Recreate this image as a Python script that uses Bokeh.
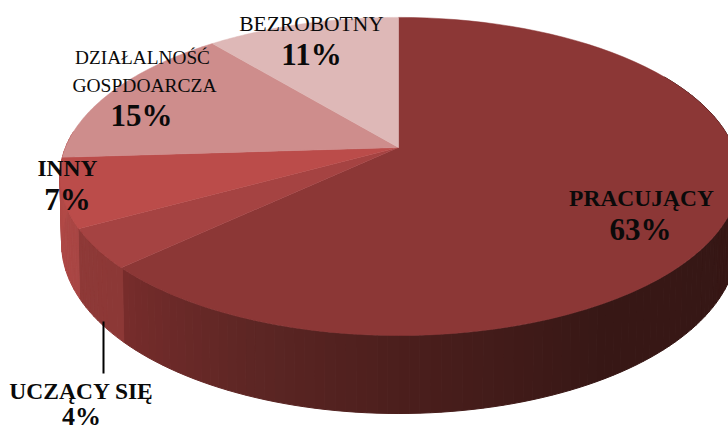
import numpy as np
from bokeh.plotting import figure
from bokeh.models import Range1d
from bokeh.core.properties import value
from bokeh.embed import file_html
from bokeh.resources import INLINE

categories = ["PRACUJĄCY", "UCZĄCY SIĘ", "INNY", "DZIAŁALNOŚĆ GOSPDOARCZA", "BEZROBOTNY"]
shares = [63, 4, 7, 15, 11]
top_colors = ["#8c3736", "#a54342", "#bb4c4a", "#ce8d8c", "#deb8b7"]

# perspective disc
CX, CY, AL, AR, B, K, SHRINK = 398, 147, 333, 335, 153.8, 0.182, 0.995


def rim(angle_deg):
    t = np.radians(angle_deg)
    u, v = np.sin(t), -np.cos(t)
    d = 1 - K * v
    a = np.where(u >= 0, AR, AL)
    return CX + a * u / d, CY + B * v / d


def depth(angle_deg):
    return 64 + 14 * max(0.0, float(-np.cos(np.radians(angle_deg))))


p = figure(width=728, height=431, output_backend="svg", toolbar_location=None,
           x_range=Range1d(0, 728), y_range=Range1d(431, 0),
           x_axis_type=None, y_axis_type=None, min_border=0,
           outline_line_color=None, background_fill_color="white")
p.grid.visible = False

edges = np.cumsum([0] + shares) / sum(shares) * 360

# side wall colour stops: angle -> colour
stops_a = [60, 150, 180, 200, 226.7, 226.9, 241, 241.2, 266, 275]
stops_rgb = np.array([
    (0x33, 0x15, 0x13), (0x38, 0x18, 0x16), (0x4c, 0x1f, 0x1d), (0x5c, 0x26, 0x24), (0x78, 0x2d, 0x2c),
    (0x8c, 0x38, 0x36), (0x8f, 0x3a, 0x38), (0xa8, 0x46, 0x44), (0xb2, 0x4a, 0x47), (0xb2, 0x4a, 0x47)])

xs, ys, cols = [], [], []
angles = np.arange(60, 275, 1.5)
for a in angles:
    b = a + 1.5
    x0, y0 = rim(a)
    x1, y1 = rim(b)
    xs.append([float(x0), float(x1), float(CX + (x1 - CX) * SHRINK), float(CX + (x0 - CX) * SHRINK)])
    ys.append([float(y0), float(y1), float(y1 + depth(b)), float(y0 + depth(a))])
    m = a + 0.75
    c = [int(np.interp(m, stops_a, stops_rgb[:, i])) for i in range(3)]
    cols.append("#%02x%02x%02x" % tuple(c))
p.patches(xs, ys, fill_color=cols, line_color=cols, line_width=1)

for i, col in enumerate(top_colors):
    arc = np.linspace(edges[i], edges[i + 1], 80)
    x, y = rim(arc)
    p.patch([CX] + x.tolist(), [CY] + y.tolist(), fill_color=col, line_color=col, line_width=0.5)

p.line([103, 103], [321, 373], line_color="black", line_width=2)

SERIF = value("Liberation Serif")


def label(x, y, txt, size, style="bold"):
    p.text([x], [y], text=[txt], text_font=SERIF, text_font_size=f"{size}px", text_font_style=style,
           text_align="center", text_baseline="middle", text_color="#0a0a0a")


label(311, 23, categories[4], 21.5, "normal")
label(311, 54, f"{shares[4]}%", 31)
label(142, 57, "DZIAŁALNOŚĆ", 19.3, "normal")
label(144, 85, "GOSPDOARCZA", 19.5, "normal")
label(141, 115, f"{shares[3]}%", 31)
label(67, 167, categories[2], 23.5)
label(67, 199, f"{shares[2]}%", 31)
label(641, 197, categories[0], 23.5)
label(640, 229, f"{shares[0]}%", 31)
label(81, 390, categories[1], 23.5)
label(81, 416, f"{shares[1]}%", 26)

open("out.html", "w").write(file_html(p, INLINE))
